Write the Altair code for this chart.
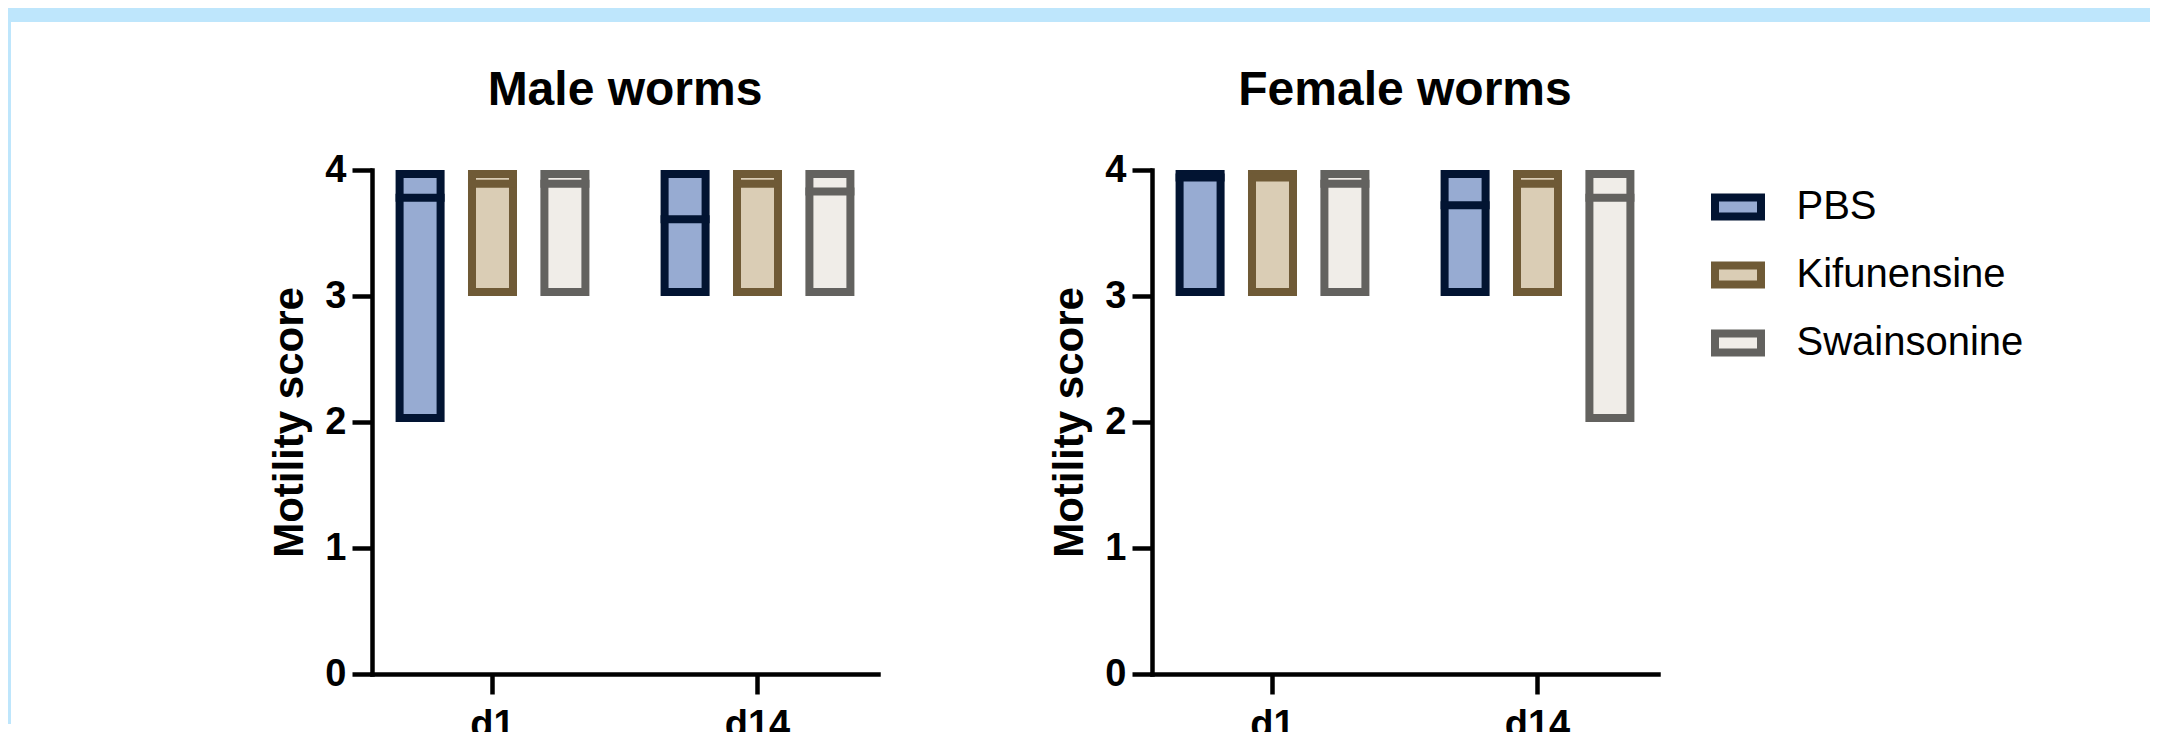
import altair as alt
import pandas as pd

# ---- data -------------------------------------------------------------
treatments = ["PBS", "Kifunensine", "Swainsonine"]
days = ["d1", "d14"]
fill_colors = ["#97ABD2", "#DACDB5", "#F0EDE8"]
stroke_colors = ["#021432", "#6F5A36", "#63625F"]

row_day = ["d1", "d1", "d1", "d14", "d14", "d14"]
row_treat = ["PBS", "Kifunensine", "Swainsonine", "PBS", "Kifunensine", "Swainsonine"]

male_min = [2, 3, 3, 3, 3, 3]
male_max = [4, 4, 4, 4, 4, 4]
male_mean = [3.78, 3.89, 3.89, 3.61, 3.89, 3.83]

female_min = [3, 3, 3, 3, 3, 2]
female_max = [4, 4, 4, 4, 4, 4]
female_mean = [3.94, 3.94, 3.89, 3.72, 3.89, 3.78]

y_ticks = [0, 1, 2, 3, 4]
y_title = "Motility score"

FONT = "Liberation Sans"
BLUE = "#BEE6FC"

male_df = pd.DataFrame({"day": row_day, "treatment": row_treat,
                        "vmin": male_min, "vmax": male_max, "vmean": male_mean})
female_df = pd.DataFrame({"day": row_day, "treatment": row_treat,
                          "vmin": female_min, "vmax": female_max, "vmean": female_mean})

W, H = 506, 504


def y_axis():
    return alt.Axis(values=y_ticks, format="d", grid=False,
                    labelFontSize=38, labelFont=FONT, labelFontWeight="bold",
                    labelColor="black", labelPadding=6,
                    tickSize=20, tickWidth=4.5, tickColor="black",
                    domainWidth=4.5, domainColor="black", domainCap="square",
                    title=y_title, titleFontSize=42, titleFont=FONT,
                    titleFontWeight="bold", titleColor="black", titleAngle=-90,
                    titleBaseline="alphabetic", titleAlign="center",
                    titleX=-70, titleY=H / 2)


def panel(df, title, show_legend, with_strip):
    x = alt.X("day:N", sort=days,
              scale=alt.Scale(domain=days, paddingInner=0.2, paddingOuter=0.0547),
              axis=alt.Axis(title=None, labelAngle=0, labelFontSize=38, labelFont=FONT,
                            labelFontWeight="bold", labelColor="black", labelPadding=12,
                            tickSize=20, tickWidth=4.5, tickColor="black",
                            domainWidth=4.5, domainColor="black", domainCap="square",
                            grid=False))
    xo = alt.XOffset("treatment:N", sort=treatments,
                     scale=alt.Scale(domain=treatments, paddingInner=0.33, paddingOuter=0.129))
    yscale = alt.Scale(domain=[0, 4], nice=False, zero=True)
    if show_legend:
        leg = alt.Legend(title=None, orient="none", legendX=559, legendY=10, labelLimit=0)
    else:
        leg = None
    fill = alt.Fill("treatment:N", sort=treatments,
                    scale=alt.Scale(domain=treatments, range=fill_colors), legend=leg)
    stroke = alt.Stroke("treatment:N", sort=treatments,
                        scale=alt.Scale(domain=treatments, range=stroke_colors), legend=leg)

    bars = alt.Chart(df).mark_bar(strokeWidth=8, width=41, yOffset=4, y2Offset=-4,
                                  strokeJoin="miter", opacity=1).encode(
        x=x, xOffset=xo,
        y=alt.Y("vmax:Q", scale=yscale, axis=y_axis()),
        y2="vmin:Q", fill=fill, stroke=stroke)

    ticks = alt.Chart(df).mark_tick(thickness=8, size=49, opacity=1).encode(
        x=x, xOffset=xo,
        y=alt.Y("vmean:Q", scale=yscale, axis=y_axis()),
        color=alt.Color("treatment:N", sort=treatments,
                        scale=alt.Scale(domain=treatments, range=stroke_colors), legend=None))

    d0 = pd.DataFrame({"k": [0]})
    ttl = alt.Chart(d0).mark_text(text=title, fontSize=48, font=FONT, fontWeight="bold",
                                  color="black", align="center", baseline="alphabetic").encode(
        x=alt.value(W / 2), y=alt.value(-65))

    layers = [bars, ticks, ttl]
    if with_strip:
        strip_top = alt.Chart(d0).mark_rect(color=BLUE).encode(
            x=alt.value(-364), x2=alt.value(1778), y=alt.value(-162), y2=alt.value(-148))
        strip_left = alt.Chart(d0).mark_rect(color=BLUE).encode(
            x=alt.value(-364), x2=alt.value(-361), y=alt.value(-162), y2=alt.value(554))
        layers = [strip_top, strip_left] + layers

    return alt.layer(*layers).properties(width=W, height=H)


left = panel(male_df, "Male worms", False, True)
right = panel(female_df, "Female worms", True, False)

chart = alt.hconcat(left, right, spacing=274, bounds="flush").resolve_scale(
    fill="independent", stroke="independent", color="independent"
).resolve_legend(fill="independent", stroke="independent", color="independent").properties(
    padding=0, background="white"
).configure_view(stroke=None).configure_legend(
    symbolType="M-1,-0.413H1V0.413H-1Z", symbolSize=2116, symbolStrokeWidth=8,
    labelFont=FONT, labelFontSize=40, labelColor="black", labelOffset=31.5,
    rowPadding=15, padding=0, symbolOpacity=1, labelLimit=0
)

chart.save("out.html", embed_options={"renderer": "svg", "actions": False})
